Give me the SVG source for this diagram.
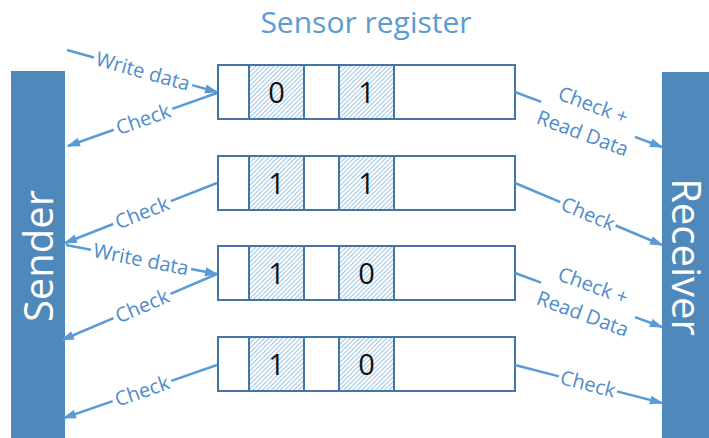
<svg xmlns="http://www.w3.org/2000/svg" width="709" height="438" viewBox="0 0 709 438">
  <style>
    .bar { fill: #4F88BB; }
    .bar-text { font-family: "Open Sans", "Liberation Sans", sans-serif; font-size: 40px; fill: #ffffff; text-anchor: middle; }
    .title { font-family: "Open Sans", "Liberation Sans", sans-serif; font-size: 30px; fill: #5B9BD5; text-anchor: middle; }
    .reg { fill: #ffffff; stroke: #4574A6; stroke-width: 2; }
    .cell { fill: url(#hatch); stroke: #4574A6; stroke-width: 2; }
    .bit { font-family: "Open Sans", "Liberation Sans", sans-serif; font-size: 29px; fill: #111111; text-anchor: middle; }
    .wire { fill: none; stroke: #5B9BD5; stroke-width: 2.5; marker-end: url(#arrow); }
    .lbl { font-family: "Open Sans", "Liberation Sans", sans-serif; font-size: 20px; fill: #4F8CCB; text-anchor: middle; }
  </style>
  <defs>
    <pattern id="hatch" patternUnits="userSpaceOnUse" width="3.2" height="10" patternTransform="rotate(45)">
      <rect width="3.2" height="10" fill="#ffffff"/>
      <line x1="0.5" y1="0" x2="0.5" y2="10" stroke="#9DC3E6" stroke-width="1"/>
    </pattern>
    <marker id="arrow" markerUnits="userSpaceOnUse" markerWidth="14" markerHeight="10" viewBox="0 0 14 10" refX="12" refY="5" orient="auto">
      <path d="M0,0.5 L13.5,5 L0,9.5 z" fill="#5B9BD5"/>
    </marker>
  </defs>

  <rect width="709" height="438" fill="#ffffff"/>

  <g id="title">
    <text class="title" x="366" y="33">Sensor register</text>
  </g>

  <g id="sender">
    <rect class="bar" x="11" y="71" width="54" height="367"/>
    <text class="bar-text" transform="translate(53,256) rotate(-90)">Sender</text>
  </g>

  <g id="receiver">
    <rect class="bar" x="662" y="72" width="47" height="366"/>
    <text class="bar-text" transform="translate(672,257) rotate(90)">Receiver</text>
  </g>

  <g id="register-1">
    <rect class="reg" x="218" y="65" width="297" height="54"/>
    <rect class="cell" x="249" y="65" width="55" height="54"/>
    <rect class="cell" x="339" y="65" width="55" height="54"/>
    <text class="bit" x="276.5" y="103">0</text>
    <text class="bit" x="366.5" y="103">1</text>
  </g>

  <g id="register-2">
    <rect class="reg" x="218" y="156" width="297" height="54"/>
    <rect class="cell" x="249" y="156" width="55" height="54"/>
    <rect class="cell" x="339" y="156" width="55" height="54"/>
    <text class="bit" x="276.5" y="194">1</text>
    <text class="bit" x="366.5" y="194">1</text>
  </g>

  <g id="register-3">
    <rect class="reg" x="218" y="246" width="297" height="54"/>
    <rect class="cell" x="249" y="246" width="55" height="54"/>
    <rect class="cell" x="339" y="246" width="55" height="54"/>
    <text class="bit" x="276.5" y="284">1</text>
    <text class="bit" x="366.5" y="284">0</text>
  </g>

  <g id="register-4">
    <rect class="reg" x="218" y="337" width="297" height="54"/>
    <rect class="cell" x="249" y="337" width="55" height="54"/>
    <rect class="cell" x="339" y="337" width="55" height="54"/>
    <text class="bit" x="276.5" y="375">1</text>
    <text class="bit" x="366.5" y="375">0</text>
  </g>

  <g id="connectors">
    <!-- sender side -->
    <path class="wire" d="M67,50 L93.9,57.5 M192.1,85.1 L217,92"/>
    <text class="lbl" transform="translate(143,71.3) rotate(15.6)" y="7">Write data</text>

    <path class="wire" d="M217,93 L172.2,108.9 M113.8,129.7 L68,146"/>
    <text class="lbl" transform="translate(143,119.3) rotate(-19.6)" y="7">Check</text>

    <path class="wire" d="M217,183 L170.8,201.2 M113.2,224 L65,243"/>
    <text class="lbl" transform="translate(142,212.6) rotate(-21.5)" y="7">Check</text>

    <path class="wire" d="M66,245 L90.9,249.8 M191.1,269 L217,274"/>
    <text class="lbl" transform="translate(141,259.4) rotate(10.9)" y="7">Write data</text>

    <path class="wire" d="M217,274 L170.5,293.8 M113.5,318.2 L62,340"/>
    <text class="lbl" transform="translate(142,306) rotate(-23.1)" y="7">Check</text>

    <path class="wire" d="M217,365 L171.3,380.9 M112.7,401.1 L64,418"/>
    <text class="lbl" transform="translate(142,391) rotate(-19.1)" y="7">Check</text>

    <!-- receiver side -->
    <path class="wire" d="M515,92 L541.2,101.8 M634.9,136.8 L662,147"/>
    <text class="lbl" transform="translate(588,119.3) rotate(20.5)"><tspan x="0" y="-8">Check +</tspan><tspan x="0" y="22">Read Data</tspan></text>

    <path class="wire" d="M515,183 L560.3,202.1 M615.7,225.5 L662,245"/>
    <text class="lbl" transform="translate(588,213.8) rotate(22.9)" y="7">Check</text>

    <path class="wire" d="M515,273 L541.1,282.6 M635,317.1 L662,327"/>
    <text class="lbl" transform="translate(588,299.8) rotate(20.2)"><tspan x="0" y="-8">Check +</tspan><tspan x="0" y="22">Read Data</tspan></text>

    <path class="wire" d="M515,365 L559,376.4 M617,391.4 L662,403"/>
    <text class="lbl" transform="translate(588,383.9) rotate(14.5)" y="7">Check</text>
  </g>
</svg>
